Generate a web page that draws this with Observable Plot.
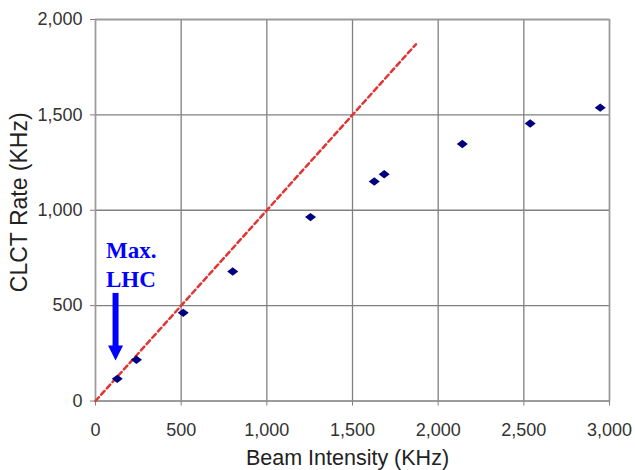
<!DOCTYPE html>
<html>
<head>
<meta charset="utf-8">
<script src="https://cdn.jsdelivr.net/npm/d3@7"></script>
<script src="https://cdn.jsdelivr.net/npm/@observablehq/plot@0.6"></script>
<style>
  html, body { margin: 0; padding: 0; background: #fff; }
  #chart svg { display: block; }
</style>
</head>
<body>
<div id="chart"></div>
<script>
// Data
const beamIntensity = [127, 239, 512, 801, 1255, 1627, 1685, 2141, 2537, 2946];
const clctRate      = [116, 216, 462, 679, 964, 1151, 1189, 1347, 1455, 1538];
// y = x reference line (dashed)
const diagX = [0, 1870];
const diagY = [0, 1870];
// Annotation "Max. LHC" with arrow
const noteLines = ["Max.", "LHC"];
const noteX = [61, 61];
const noteY = [789, 637];
const arrowX = [117];
const arrowTop = [564];
const arrowTip = [212];
// Axes
const xTicks = [0, 500, 1000, 1500, 2000, 2500, 3000];
const yTicks = [0, 500, 1000, 1500, 2000];
const xTitle = "Beam Intensity (KHz)";
const yTitle = "CLCT Rate (KHz)";

const points = beamIntensity.map((x, i) => ({x, y: clctRate[i]}));
const diag = diagX.map((x, i) => ({x, y: diagY[i]}));
const notes = noteLines.map((t, i) => ({t, x: noteX[i], y: noteY[i]}));
const arrow = arrowX.map((x, i) => ({x, y1: arrowTop[i], y2: arrowTip[i]}));

const diamond = {
  draw(ctx) {
    const w = 5.5, h = 4.2;
    ctx.moveTo(-w, 0); ctx.lineTo(0, -h); ctx.lineTo(w, 0); ctx.lineTo(0, h); ctx.closePath();
  }
};
const headDown = {
  draw(ctx) {
    ctx.moveTo(-7.5, -15); ctx.lineTo(7.5, -15); ctx.lineTo(0, 0); ctx.closePath();
  }
};

const font = "'Liberation Sans', Arial, sans-serif";

const chart = Plot.plot({
  width: 635,
  height: 470,
  marginLeft: 95,
  marginRight: 26,
  marginTop: 19,
  marginBottom: 69.5,
  style: { fontFamily: font, background: "#fff" },
  x: { domain: [0, 3000] },
  y: { domain: [0, 2000] },
  marks: [
    Plot.gridX(xTicks, { stroke: "#808080", strokeOpacity: 1, strokeWidth: 1.3 }),
    Plot.gridY(yTicks, { stroke: "#808080", strokeOpacity: 1, strokeWidth: 1.3 }),
    Plot.frame({ stroke: "#9a9a9a", strokeWidth: 1.5 }),
    Plot.axisX({ ticks: xTicks, tickFormat: d3.format(","), tickSize: 5, tickPadding: 17,
      fontSize: 18, fill: "#333", stroke: "#808080", label: null }),
    Plot.axisY({ ticks: yTicks, tickFormat: d3.format(","), tickSize: 5, tickPadding: 8,
      fontSize: 18, fill: "#333", stroke: "#808080", label: null }),
    Plot.text([xTitle], { frameAnchor: "bottom", textAnchor: "middle", dx: -5, dy: 57.5, lineAnchor: "middle",
      fontSize: 21.5, fill: "#222", text: d => d }),
    Plot.text([yTitle], { frameAnchor: "middle", textAnchor: "middle", rotate: -90, dx: -333, dy: -8, lineAnchor: "middle",
      fontSize: 23, fill: "#222", text: d => d }),
    Plot.line(diag, { x: "x", y: "y", stroke: "#e23434", strokeWidth: 2.5, strokeDasharray: "5,3.5" }),
    Plot.dot(points, { x: "x", y: "y", symbol: diamond, fill: "#000080", stroke: "none" }),
    Plot.ruleX(arrow, { x: "x", y1: "y1", y2: "y2", stroke: "#0000ff", strokeWidth: 6, insetBottom: 13 }),
    Plot.dot(arrow, { x: "x", y: "y2", symbol: headDown, fill: "#0000ff", stroke: "none" }),
    Plot.text(notes, { x: "x", y: "y", text: "t", textAnchor: "start", lineAnchor: "middle",
      fontFamily: "'Liberation Serif', 'Times New Roman', serif", fontWeight: "bold",
      fontSize: 23, fill: "#0000ff" })
  ]
});
document.getElementById("chart").appendChild(chart);
</script>
</body>
</html>
